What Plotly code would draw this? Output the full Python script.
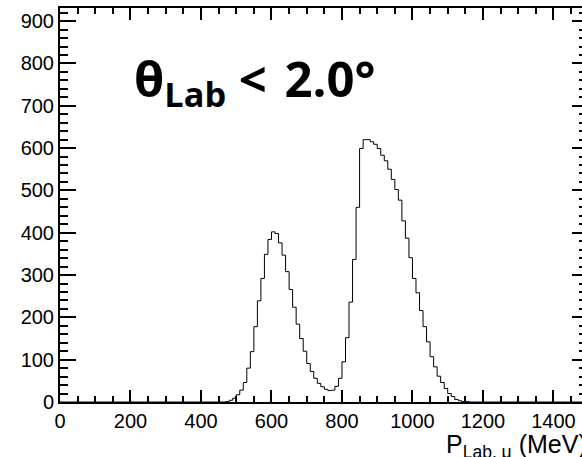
import plotly.graph_objects as go

# Histogram: 10 MeV bins from 0 to 1500 MeV; non-empty region starts at 470 MeV
bin_width = 10
n_bins = 150
first_bin_low = 470
counts_nonzero = [1, 4, 9, 17, 28, 46, 80, 119, 178, 239, 292, 349, 384, 402, 398,
                  376, 347, 308, 266, 224, 184, 150, 120, 91, 72, 56, 44, 36, 30, 27,
                  28, 37, 56, 95, 152, 236, 337, 460, 599, 620, 620, 615, 609, 599,
                  583, 570, 550, 526, 502, 477, 428, 387, 341, 292, 258, 216, 178,
                  142, 107, 83, 61, 46, 32, 20, 13, 6, 3, 1, 1]

x_ticks = [0, 200, 400, 600, 800, 1000, 1200, 1400]
y_ticks = [0, 100, 200, 300, 400, 500, 600, 700, 800, 900]
x_range = [0, 1481]
y_range = [0, 931]

start = first_bin_low // bin_width
counts = [0] * n_bins
for i, c in enumerate(counts_nonzero):
    counts[start + i] = c
edges = [i * bin_width for i in range(n_bins + 1)]
ys = counts + [counts[-1]]

fig = go.Figure()
fig.add_trace(go.Scatter(x=edges, y=ys, mode="lines", line=dict(color="black", width=1, shape="hv"),
                         hoverinfo="skip", showlegend=False))
fig.add_trace(go.Scatter(x=edges, y=ys, mode="lines", line=dict(color="rgba(0,0,0,0)", width=0),
                         yaxis="y2", hoverinfo="skip", showlegend=False))

tickfont = dict(family="Liberation Sans, Arial, sans-serif", size=20, color="black")

fig.update_layout(
    width=582, height=457,
    margin=dict(l=60, r=0, t=8, b=55),
    paper_bgcolor="white", plot_bgcolor="white",
    xaxis=dict(range=x_range, tickvals=x_ticks, ticks="inside", ticklen=12, tickwidth=2,
               tickcolor="black", showline=True, linewidth=2, linecolor="black", mirror="ticks",
               showgrid=False, zeroline=False, tickfont=tickfont,
               minor=dict(dtick=50, ticks="inside", ticklen=6, tickwidth=2, tickcolor="black", showgrid=False)),
    yaxis=dict(range=y_range, tickvals=y_ticks, ticks="inside", ticklen=16, tickwidth=2,
               tickcolor="black", showline=True, linewidth=2, linecolor="black", mirror=False,
               showgrid=False, zeroline=False, tickfont=tickfont,
               minor=dict(dtick=20, ticks="inside", ticklen=8, tickwidth=2, tickcolor="black", showgrid=False)),
    yaxis2=dict(range=y_range, overlaying="y", side="right", tickvals=y_ticks, ticks="inside",
                ticklen=10, tickwidth=2, tickcolor="black", showline=False, showgrid=False,
                zeroline=False, showticklabels=False,
                minor=dict(dtick=20, ticks="inside", ticklen=3, tickwidth=2, tickcolor="black", showgrid=False)),
    annotations=[
        dict(text="P<sub>Lab, μ</sub> (MeV)", xref="paper", yref="paper", x=1500 / x_range[1], y=-0.065,
             xanchor="right", yanchor="top", showarrow=False,
             font=dict(family="Liberation Sans, Arial, sans-serif", size=25, color="black")),
        dict(text="<b>θ<sub>Lab</sub> &lt; \u200a2.0°</b>", xref="paper", yref="paper", x=0.137, y=0.815,
             xanchor="left", yanchor="middle", showarrow=False,
             font=dict(family="Open Sans, sans-serif", size=49, color="black")),
    ],
)

fig.write_html("out.html")
